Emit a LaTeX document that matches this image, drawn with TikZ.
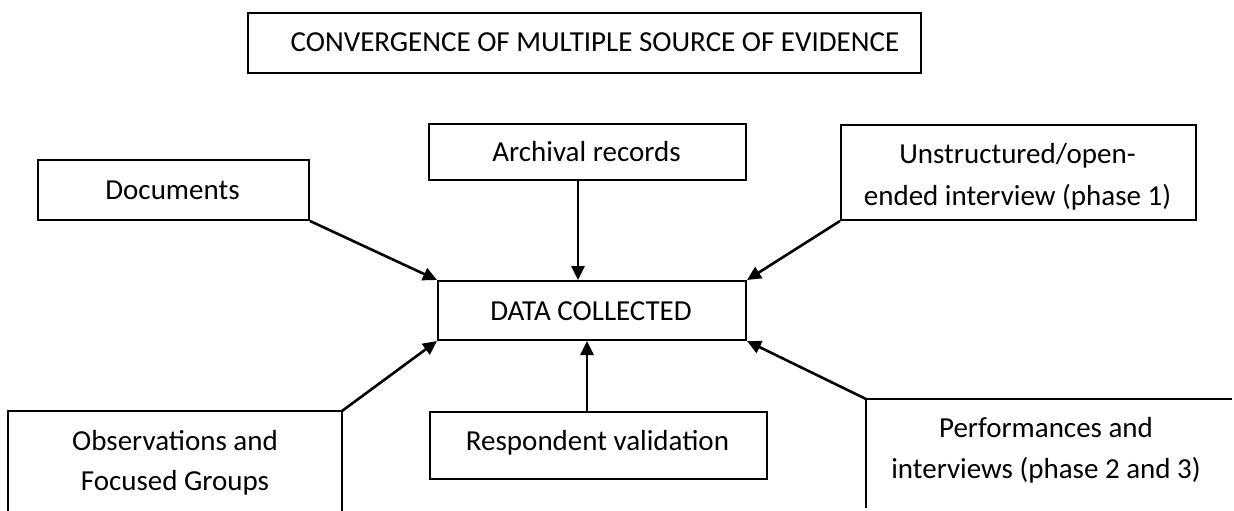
\documentclass[tikz,border=0pt]{standalone}
\usepackage{fontspec}
\setmainfont{Carlito}
\usetikzlibrary{arrows.meta}

\begin{document}
\begin{tikzpicture}[x=1pt,y=-1pt,
  box/.style={draw,line width=2pt,rectangle,inner sep=0pt,anchor=north west},
  label/.style={anchor=base,inner sep=0pt,font=\fontsize{29}{40}\selectfont},
  arrow/.style={line width=2.6pt,-{Triangle[length=14pt,width=13pt]}},
  openbox/.style={line width=2pt}]
  \useasboundingbox (0,0) rectangle (1234,511);

  % title
  \node[box,minimum width=673pt,minimum height=60pt] (title) at (247,12) {};
  \node[label] (titletext) at (595,52) {CONVERGENCE OF MULTIPLE SOURCE OF EVIDENCE};

  % upper sources
  \node[box,minimum width=271pt,minimum height=60pt] (docs) at (37,159) {};
  \node[label] (docstext) at (172.5,199) {Documents};

  \node[box,minimum width=317pt,minimum height=56pt] (arch) at (428,123) {};
  \node[label] (archtext) at (586.5,161) {Archival records};

  \node[box,minimum width=355pt,minimum height=95pt] (unstr) at (840,124) {};
  \node[label] (unstrtexta) at (1017.5,163) {Unstructured/open-};
  \node[label] (unstrtextb) at (1017.5,205) {ended interview (phase 1)};

  % centre
  \node[box,minimum width=308pt,minimum height=59pt] (data) at (437,280) {};
  \node[label] (datatext) at (591,320) {DATA COLLECTED};

  % lower sources
  \node[box,minimum width=337pt,minimum height=67pt] (resp) at (429,411) {};
  \node[label] (resptext) at (597.5,450) {Respondent validation};

  \coordinate (obsBL) at (8,511);
  \coordinate (obsTL) at (8,411);
  \coordinate (obsTR) at (342,411);
  \coordinate (obsBR) at (342,511);
  \draw[openbox] (obsBL) -- (obsTL) -- (obsTR) -- (obsBR);
  \node[label] (obstexta) at (175,450) {Observations and};
  \node[label] (obstextb) at (175,490) {Focused Groups};

  \coordinate (perfBL) at (866,508);
  \coordinate (perfTL) at (866,399);
  \coordinate (perfTR) at (1232,399);
  \draw[openbox] (perfBL) -- (perfTL) -- (perfTR);
  \node[label] (perftexta) at (1046,437) {Performances and};
  \node[label] (perftextb) at (1046,478) {interviews (phase 2 and 3)};

  % connectors
  \draw[arrow] (docs.south east) -- (data.north west);
  \draw[arrow] ([xshift=-9.5pt]arch.south) -- ([xshift=-9.5pt]arch.south |- data.north);
  \draw[arrow] (unstr.south west) -- (data.north east);
  \draw[arrow] (obsTR) -- (data.south west);
  \draw[arrow] ([xshift=-11.5pt]resp.north) -- ([xshift=-11.5pt]resp.north |- data.south);
  \draw[arrow] (perfTL) -- (data.south east);
\end{tikzpicture}
\end{document}
